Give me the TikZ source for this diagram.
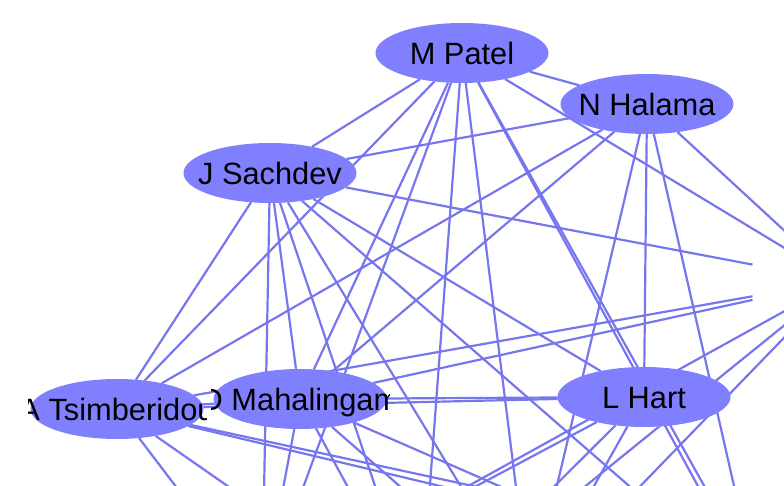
\documentclass[tikz,border=0pt]{standalone}
\usepackage{fontspec}
\setmainfont{Liberation Sans}
\usetikzlibrary{shapes.geometric}

\definecolor{periwinkle}{RGB}{128,128,255}
\definecolor{tiecolor}{RGB}{118,118,238}

\tikzset{
  slot/.style={ellipse, minimum width=86.5pt, minimum height=30pt, inner sep=0pt, outer sep=0pt},
  away/.style={rectangle, minimum width=86.5pt, minimum height=30pt, inner sep=0pt, outer sep=0pt},
  person/.style={slot, fill=periwinkle},
  tie/.style={tiecolor, line width=1.1pt},
  nametext/.style={font=\fontsize{15.4}{18}\selectfont, text height=11.1pt, text depth=0pt, inner sep=0pt}
}

\begin{document}
\begin{tikzpicture}[x=0.5pt, y=-0.5pt]
  \useasboundingbox (0,0) rectangle (784,486);
  \clip (0,0) rectangle (784,486);
  % authors in the frame
  \node[slot] (MP) at (462,53) {};
  \node[slot] (NH) at (647,104) {};
  \node[slot] (JS) at (270,173) {};
  \node[slot] (AT) at (117,409) {};
  \node[slot] (DM) at (300,399) {};
  \node[slot] (LH) at (644,397) {};
  % authors outside the frame
  \node[away] (R) at (839,281) {};
  \node[slot] (B1) at (262,600) {};
  \node[slot] (B2) at (420,620) {};
  \node[slot] (B3) at (530,600) {};
  \node[slot] (B4) at (760,600) {};
  \node[slot] (B5) at (768,600) {};
  \node[slot] (B6) at (1000,600) {};
  \node[slot] (B7) at (960,610) {};
  % co-author links
  \foreach \a/\b in {MP/NH, MP/JS, MP/AT, MP/DM, MP/R, MP/B1, MP/B2, MP/B3, MP/B4, MP/B5,
                     NH/JS, NH/AT, NH/DM, NH/LH, NH/R, NH/B3, NH/B4,
                     JS/AT, JS/DM, JS/LH, JS/R, JS/B1, JS/B2, JS/B3, JS/B4,
                     AT/DM, AT/LH, AT/R, AT/B1, AT/B2, AT/B6, AT/B7,
                     DM/LH, DM/R, DM/B1, DM/B2, DM/B3, DM/B4,
                     LH/B1, LH/B2, LH/B3,
                     R/B1, R/B2, R/B3}
    \draw[tie] (\a) -- (\b);
  % ellipses on top, names cut at the sides
  \foreach \who/\txt in {MP/M Patel, NH/N Halama, JS/J Sachdev, AT/A Tsimberidou, DM/D Mahalingam, LH/L Hart} {
    \node[person] at (\who) {};
    \begin{scope}
      \clip (\who) ++(-89,-31) rectangle ++(178,62);
      \node[nametext] at (\who) {\txt};
    \end{scope}
  }
\end{tikzpicture}
\end{document}
